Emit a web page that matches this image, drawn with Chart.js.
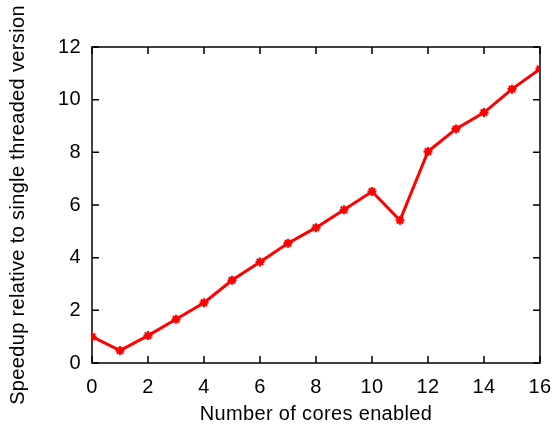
<!DOCTYPE html>
<html><head><meta charset="utf-8">
<script src="https://cdn.jsdelivr.net/npm/chart.js@4/dist/chart.umd.min.js"></script>
<style>html,body{margin:0;padding:0;background:#fff}#wrap{width:555px;height:428px}</style>
</head><body><div id="wrap"><canvas id="c" width="555" height="428"></canvas></div>
<script>
const cores = [0,1,2,3,4,5,6,7,8,9,10,11,12,13,14,15,16];
const speedup = [1.0,0.47,1.04,1.66,2.29,3.14,3.84,4.55,5.14,5.82,6.51,5.42,8.03,8.89,9.51,10.4,11.17];
const xTicks = [0,2,4,6,8,10,12,14,16];
const yTicks = [0,2,4,6,8,10,12];
const xTitle = 'Number of cores enabled';
const yTitle = 'Speedup relative to single threaded version';

const FONT = 'Liberation Sans, Arial, Helvetica, sans-serif';
const FS = 20;
const SPACING = '0.35px';

const spacing = {
  id:'spacing',
  beforeUpdate(chart){chart.ctx.letterSpacing=SPACING;},
  beforeLayout(chart){chart.ctx.letterSpacing=SPACING;},
  beforeDraw(chart){chart.ctx.letterSpacing=SPACING;}
};

const frame = {
  id:'frame',
  beforeDatasetsDraw(chart){
    const {ctx, chartArea:a, scales:{x,y}} = chart;
    ctx.save();
    ctx.strokeStyle='#000'; ctx.lineWidth=1.5;
    const L=7;
    ctx.beginPath();
    xTicks.forEach(v=>{const p=x.getPixelForValue(v); ctx.moveTo(p,a.bottom); ctx.lineTo(p,a.bottom-L); ctx.moveTo(p,a.top); ctx.lineTo(p,a.top+L);});
    yTicks.forEach(v=>{const p=y.getPixelForValue(v); ctx.moveTo(a.left,p); ctx.lineTo(a.left+L,p); ctx.moveTo(a.right,p); ctx.lineTo(a.right-L,p);});
    ctx.stroke();
    ctx.strokeRect(a.left,a.top,a.right-a.left,a.bottom-a.top);
    ctx.restore();
  }
};

new Chart(document.getElementById('c'),{
  type:'line',
  data:{datasets:[{data:cores.map((c,i)=>({x:c,y:speedup[i]})),borderColor:'#ff0000',backgroundColor:'#ff0000',borderWidth:3,pointStyle:'star',pointRadius:4.5,pointBorderWidth:2.2,pointBorderColor:'#ff0000',tension:0}]},
  options:{
    responsive:false,animation:false,
    layout:{padding:{left:0,right:15,top:47,bottom:0}},
    plugins:{legend:{display:false},tooltip:{enabled:false}},
    scales:{
      x:{type:'linear',min:0,max:16,
        afterBuildTicks(s){s.ticks=xTicks.map(v=>({value:v}));},
        afterFit(s){s.height=65;s.paddingLeft=0;s.paddingRight=0;},
        grid:{display:false,drawTicks:false},border:{display:false},
        ticks:{color:'#000',font:{family:FONT,size:FS},padding:12,maxRotation:0},
        title:{display:true,text:xTitle,color:'#000',font:{family:FONT,size:FS},padding:{top:2,bottom:2}}},
      y:{type:'linear',min:0,max:12,
        afterBuildTicks(s){s.ticks=yTicks.map(v=>({value:v}));},
        afterFit(s){s.width=92;s.paddingTop=0;s.paddingBottom=0;},
        grid:{display:false,drawTicks:false},border:{display:false},
        ticks:{color:'#000',font:{family:FONT,size:FS},padding:11},
        title:{display:true,text:yTitle,color:'#000',font:{family:FONT,size:FS},padding:{top:6,bottom:0}}}
    }
  },
  plugins:[spacing,frame]
});
</script></body></html>
